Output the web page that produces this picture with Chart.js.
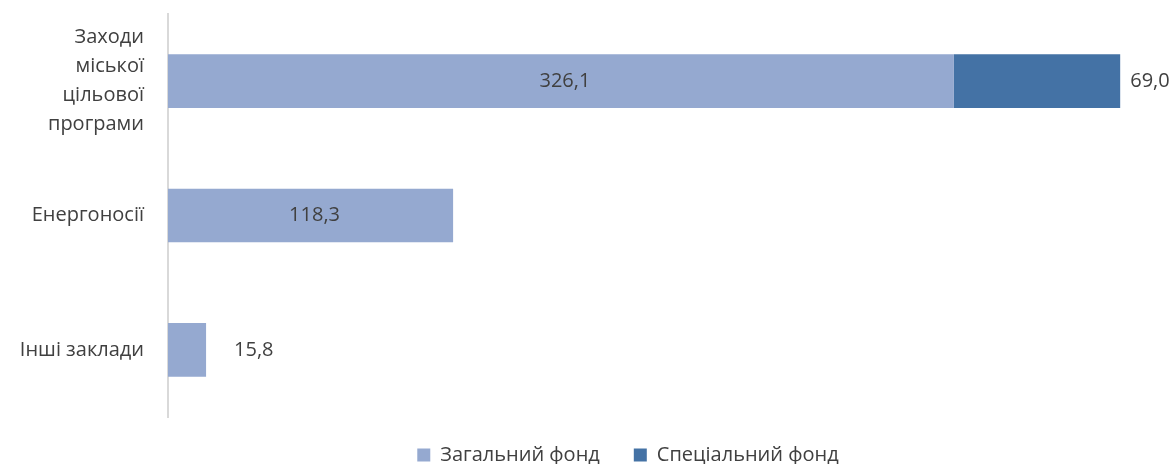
<!DOCTYPE html>
<html>
<head>
<meta charset="utf-8">
<script src="https://cdn.jsdelivr.net/npm/chart.js@4.4.0/dist/chart.umd.min.js"></script>
<style>
  html, body { margin: 0; padding: 0; background: #fff; }
  #wrap { width: 1174px; height: 464px; }
</style>
</head>
<body>
<div id="wrap"><canvas id="fundChart" width="1174" height="464"></canvas></div>
<script>
var categories = [
  ['Заходи', 'міської', 'цільової', 'програми'],
  'Енергоносії',
  'Інші заклади'
];
var generalFund = [326.1, 118.3, 15.8];
var specialFund = [69.0, null, null];
var seriesNames = ['Загальний фонд', 'Спеціальний фонд'];

var TEXT = '#404040';
var FONT = "'Open Sans', sans-serif";

function fmt(v) {
  return v.toFixed(1).replace('.', ',');
}

// value labels: inside centre for wide general-fund bars, otherwise after the bar end
var valueLabels = {
  id: 'valueLabels',
  afterDatasetsDraw: function(chart) {
    var ctx = chart.ctx;
    ctx.save();
    ctx.font = '20px ' + FONT;
    ctx.fillStyle = TEXT;
    ctx.textBaseline = 'middle';
    chart.data.datasets.forEach(function(ds, di) {
      var meta = chart.getDatasetMeta(di);
      meta.data.forEach(function(bar, i) {
        var v = ds.data[i];
        if (v === null || v === undefined) return;
        var left = Math.min(bar.base, bar.x);
        var w = Math.abs(bar.x - bar.base);
        if (di === 0 && w > 80) {
          ctx.textAlign = 'center';
          ctx.fillText(fmt(v), left + w / 2 + 4, bar.y);
        } else {
          ctx.textAlign = 'left';
          ctx.fillText(fmt(v), bar.x + (di === 1 ? 10 : 28), bar.y);
        }
      });
    });
    ctx.restore();
  }
};

// nudge the legend under the bars and a little up
var legendShift = {
  id: 'legendShift',
  afterLayout: function(chart) {
    var lg = chart.legend;
    if (!lg) return;
    lg.left -= 22;
    lg.right -= 22;
    lg.top -= 6;
    lg.bottom -= 6;
  }
};

var ctx = document.getElementById('fundChart').getContext('2d');
new Chart(ctx, {
  type: 'bar',
  data: {
    labels: categories,
    datasets: [{
      label: seriesNames[0],
      data: generalFund,
      backgroundColor: '#95A9D0',
      borderWidth: 0
    }, {
      label: seriesNames[1],
      data: specialFund,
      backgroundColor: '#4472A5',
      borderWidth: 0
    }]
  },
  options: {
    indexAxis: 'y',
    responsive: false,
    animation: false,
    layout: { padding: { top: 14, right: 42, left: 0, bottom: -17 } },
    datasets: { bar: { categoryPercentage: 1, barPercentage: 0.4 } },
    plugins: {
      legend: {
        position: 'bottom',
        fullSize: false,
        labels: {
          boxWidth: 13,
          boxHeight: 13,
          color: TEXT,
          padding: 34,
          font: { family: FONT, size: 20 }
        }
      },
      tooltip: { enabled: false }
    },
    scales: {
      x: {
        stacked: true,
        display: false,
        min: 0,
        max: 400
      },
      y: {
        stacked: true,
        grid: { display: false },
        border: { display: true, color: '#d9d9d9', width: 2 },
        ticks: {
          color: TEXT,
          padding: 16,
          font: { family: FONT, size: 20, lineHeight: 1.45 }
        },
        afterFit: function(scale) {
          scale.width = 168;
          scale.paddingTop = 0;
          scale.paddingBottom = 0;
        }
      }
    }
  },
  plugins: [valueLabels, legendShift]
});
</script>
</body>
</html>
